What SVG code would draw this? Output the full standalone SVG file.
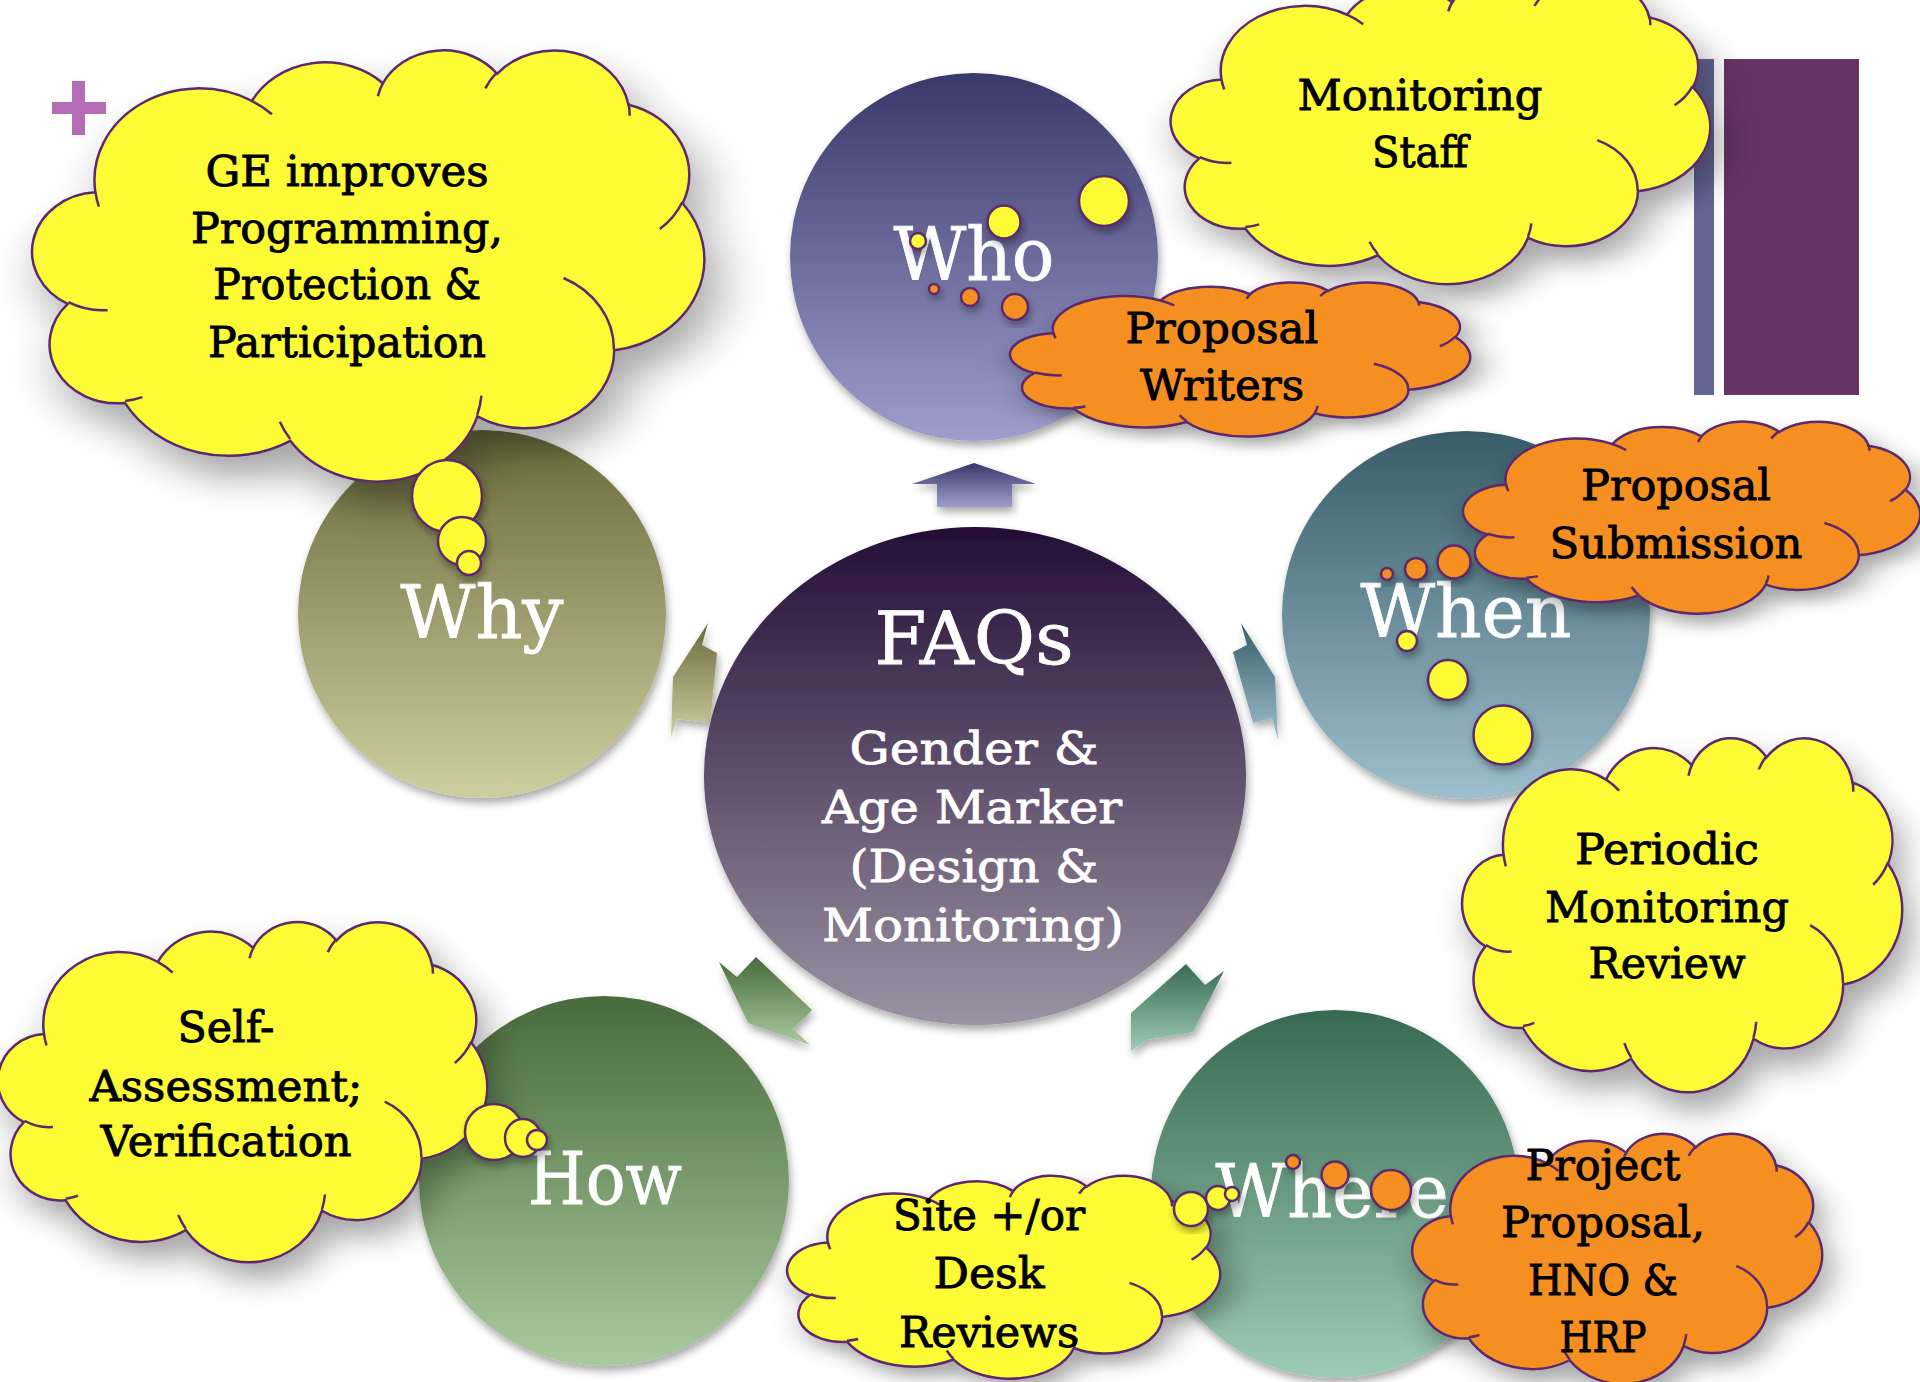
<svg xmlns="http://www.w3.org/2000/svg" xmlns:xlink="http://www.w3.org/1999/xlink" width="1920" height="1382" viewBox="0 0 1920 1382">
<style>
.lbl{font-family:"DejaVu Serif","Liberation Serif",serif;fill:#ffffff;text-anchor:middle;stroke:#ffffff;stroke-width:0.8}
.ct{font-family:"DejaVu Serif","Liberation Serif",serif;fill:#000000;text-anchor:middle;font-size:43px;stroke:#000000;stroke-width:0.9}
.bub{stroke:#5b2a6c;stroke-width:2.5}
.y{fill:#fdfb34}
.o{fill:#f68f22}
</style>
<defs>
<filter id="sh" x="-20%" y="-20%" width="140%" height="140%">
<feGaussianBlur in="SourceAlpha" stdDeviation="4"/>
<feOffset dx="2" dy="5" result="b"/>
<feComponentTransfer><feFuncA type="linear" slope="0.35"/></feComponentTransfer>
<feMerge><feMergeNode/><feMergeNode in="SourceGraphic"/></feMerge>
</filter>
<linearGradient id="gWho" x1="0" y1="0" x2="0" y2="1"><stop offset="0" stop-color="#3a386a"/><stop offset="1" stop-color="#9e9ecd"/></linearGradient>
<linearGradient id="gFaq" x1="0" y1="0" x2="0" y2="1"><stop offset="0" stop-color="#240e36"/><stop offset="1" stop-color="#9b92a3"/></linearGradient>
<linearGradient id="gWhy" x1="0" y1="0" x2="0" y2="1"><stop offset="0" stop-color="#696a3b"/><stop offset="1" stop-color="#cfcea0"/></linearGradient>
<linearGradient id="gWhen" x1="0" y1="0" x2="0" y2="1"><stop offset="0" stop-color="#385c69"/><stop offset="1" stop-color="#9ebfcd"/></linearGradient>
<linearGradient id="gHow" x1="0" y1="0" x2="0" y2="1"><stop offset="0" stop-color="#486b3c"/><stop offset="1" stop-color="#a9ca9c"/></linearGradient>
<linearGradient id="gWhere" x1="0" y1="0" x2="0" y2="1"><stop offset="0" stop-color="#386a52"/><stop offset="1" stop-color="#9ecbb4"/></linearGradient>
<g id="cloud">
<path vector-effect="non-scaling-stroke" stroke="#5b2a6c" stroke-width="2.5" d="M 9.03 33.26 A 15.63 21.27 0 0 1 32.42 12.05 A 12.34 16.82 0 0 1 51.99 7.95 A 10.10 13.76 0 0 1 69.07 5.75 A 11.24 15.27 0 0 1 88.71 12.92 A 12.34 16.84 0 0 1 96.81 35.80 A 15.68 21.34 0 0 1 86.59 69.92 A 13.39 18.21 0 0 1 66.11 85.22 A 15.63 21.33 0 0 1 38.16 90.90 A 17.87 24.41 0 0 1 13.44 82.12 A 10.09 13.70 0 0 1 4.90 59.15 A 10.06 13.76 0 0 1 9.03 33.26 Z"/>
<path vector-effect="non-scaling-stroke" fill="none" stroke="#5b2a6c" stroke-width="2.5" d="M 10.86 60.59 A 10.06 13.76 0 0 1 5.00 58.75 M 16.04 80.78 A 10.09 13.70 0 0 1 13.47 81.67 M 38.14 90.49 A 15.63 21.33 0 0 1 36.60 86.46 M 66.73 80.44 A 15.63 21.33 0 0 1 66.11 84.86 M 79.00 53.13 A 13.39 18.21 0 0 1 86.53 69.65 M 96.75 35.54 A 12.35 16.84 0 0 1 93.40 41.74 M 88.71 12.56 A 11.24 15.27 0 0 1 88.89 15.48 M 67.31 9.15 A 11.24 15.27 0 0 1 69.03 5.42 M 51.25 10.93 A 10.10 13.76 0 0 1 52.08 7.71 M 32.41 12.02 A 15.63 21.27 0 0 1 35.42 15.14 M 9.55 36.55 A 15.63 21.27 0 0 1 9.03 33.26"/>
</g>
</defs>
<rect x="0" y="0" width="1920" height="1382" fill="#ffffff"/>

<g id="decor">
<rect x="72" y="81" width="13" height="54" fill="#b56cb6"/>
<rect x="52" y="102" width="54" height="12" fill="#b56cb6"/>
<rect x="1694" y="59" width="20" height="336" fill="#646594"/>
<rect x="1724" y="59" width="135" height="336" fill="#663366"/>
</g>

<g id="connectors" filter="url(#sh)">
<polygon points="974,463 1036,484 1012,484 1012,507 937,507 937,484 912,484" fill="url(#gWho)"/>
<polygon points="708,623 702,645 717,653 710,723 677,719 671,737 673,677" fill="url(#gWhy)"/>
<polygon points="1241,623 1247,645 1233,652 1253,723 1272,718 1278,740 1275,677" fill="url(#gWhen)"/>
<polygon points="719,962 737,977 756,957 812,1010 793,1029 810,1045 748,1023" fill="url(#gHow)"/>
<polygon points="1186,964 1205,985 1224,971 1193,1032 1146,1040 1131,1051 1131,1013" fill="url(#gWhere)"/>
</g>

<g id="node-faqs">
<ellipse cx="975" cy="776" rx="271" ry="249" fill="url(#gFaq)" filter="url(#sh)"/>
<text class="lbl" x="974" y="664" font-size="72" textLength="199" lengthAdjust="spacingAndGlyphs">FAQs</text>
<text class="lbl" x="974" y="764" font-size="45" textLength="249" lengthAdjust="spacingAndGlyphs">Gender &amp;</text>
<text class="lbl" x="972" y="823" font-size="45" textLength="300" lengthAdjust="spacingAndGlyphs">Age Marker</text>
<text class="lbl" x="974" y="882" font-size="45" textLength="249" lengthAdjust="spacingAndGlyphs">(Design &amp;</text>
<text class="lbl" x="973" y="941" font-size="45" textLength="302" lengthAdjust="spacingAndGlyphs">Monitoring)</text>
</g>

<g id="node-who">
<circle cx="974" cy="257" r="184" fill="url(#gWho)" filter="url(#sh)"/>
<text class="lbl" x="974" y="280" font-size="72" textLength="161" lengthAdjust="spacingAndGlyphs">Who</text>
</g>
<g id="node-why">
<circle cx="482" cy="614" r="184" fill="url(#gWhy)" filter="url(#sh)"/>
<text class="lbl" x="482" y="638" font-size="72" textLength="163" lengthAdjust="spacingAndGlyphs">Why</text>
</g>
<g id="node-when">
<circle cx="1466" cy="615" r="184" fill="url(#gWhen)" filter="url(#sh)"/>
<text class="lbl" x="1466" y="637" font-size="72" textLength="211" lengthAdjust="spacingAndGlyphs">When</text>
</g>
<g id="node-how">
<circle cx="604" cy="1181" r="185" fill="url(#gHow)" filter="url(#sh)"/>
<text class="lbl" x="605" y="1204" font-size="72" textLength="154" lengthAdjust="spacingAndGlyphs">How</text>
</g>
<g id="node-where">
<circle cx="1335" cy="1194" r="184" fill="url(#gWhere)" filter="url(#sh)"/>
<text class="lbl" x="1332" y="1217" font-size="72" textLength="233" lengthAdjust="spacingAndGlyphs">Where</text>
</g>

<g id="cloud-ge">
<use href="#cloud" class="y" transform="translate(35 49) scale(6.69 4.31)" filter="url(#sh)"/>
<g filter="url(#sh)">
<ellipse class="y bub" cx="447" cy="496" rx="35" ry="36"/>
<ellipse class="y bub" cx="462" cy="541" rx="24" ry="24"/>
<ellipse class="y bub" cx="469" cy="563" rx="12" ry="12"/>
</g>
<text class="ct" x="347" y="186" textLength="283" lengthAdjust="spacingAndGlyphs">GE improves</text>
<text class="ct" x="347" y="243" textLength="312" lengthAdjust="spacingAndGlyphs">Programming,</text>
<text class="ct" x="347" y="299" textLength="268" lengthAdjust="spacingAndGlyphs">Protection &amp;</text>
<text class="ct" x="347" y="357" textLength="278" lengthAdjust="spacingAndGlyphs">Participation</text>
</g>

<g id="cloud-monitoring-staff">
<use href="#cloud" class="y" transform="translate(1173 -22) scale(5.37 3.05)" filter="url(#sh)"/>
<g filter="url(#sh)">
<circle class="y bub" cx="1104" cy="201" r="25"/>
<circle class="y bub" cx="1004" cy="222" r="16.5"/>
<circle class="y bub" cx="918" cy="241" r="8"/>
</g>
<text class="ct" x="1420" y="110" textLength="245" lengthAdjust="spacingAndGlyphs">Monitoring</text>
<text class="ct" x="1420" y="167" textLength="96" lengthAdjust="spacingAndGlyphs">Staff</text>
</g>

<g id="cloud-proposal-writers">
<use href="#cloud" class="o" transform="translate(1012 282) scale(4.58 1.54)" filter="url(#sh)"/>
<g filter="url(#sh)">
<circle class="o bub" cx="1015" cy="307" r="13"/>
<circle class="o bub" cx="970" cy="297" r="9"/>
<circle class="o bub" cx="934" cy="289" r="5"/>
</g>
<text class="ct" x="1222" y="343" textLength="193" lengthAdjust="spacingAndGlyphs">Proposal</text>
<text class="ct" x="1222" y="400" textLength="164" lengthAdjust="spacingAndGlyphs">Writers</text>
</g>

<g id="cloud-proposal-submission">
<use href="#cloud" class="o" transform="translate(1465 421) scale(4.55 1.92)" filter="url(#sh)"/>
<g filter="url(#sh)">
<circle class="o bub" cx="1454" cy="562" r="16.5"/>
<circle class="o bub" cx="1416" cy="569" r="11"/>
<circle class="o bub" cx="1387" cy="574" r="6"/>
</g>
<text class="ct" x="1676" y="500" textLength="190" lengthAdjust="spacingAndGlyphs">Proposal</text>
<text class="ct" x="1676" y="558" textLength="253" lengthAdjust="spacingAndGlyphs">Submission</text>
</g>

<g id="cloud-periodic">
<use href="#cloud" class="y" transform="translate(1464 737) scale(4.38 3.54)" filter="url(#sh)"/>
<g filter="url(#sh)">
<circle class="y bub" cx="1407" cy="641" r="10"/>
<circle class="y bub" cx="1448" cy="680" r="20"/>
<circle class="y bub" cx="1503" cy="735" r="29.5"/>
</g>
<text class="ct" x="1667" y="864" textLength="184" lengthAdjust="spacingAndGlyphs">Periodic</text>
<text class="ct" x="1667" y="922" textLength="244" lengthAdjust="spacingAndGlyphs">Monitoring</text>
<text class="ct" x="1667" y="978" textLength="157" lengthAdjust="spacingAndGlyphs">Review</text>
</g>

<g id="cloud-self-assessment">
<use href="#cloud" class="y" transform="translate(0 921) scale(4.87 3.40)" filter="url(#sh)"/>
<g filter="url(#sh)">
<ellipse class="y bub" cx="494" cy="1132" rx="29" ry="28"/>
<ellipse class="y bub" cx="523" cy="1138" rx="18" ry="19"/>
<ellipse class="y bub" cx="537" cy="1140" rx="10" ry="10"/>
</g>
<text class="ct" x="226" y="1042" textLength="97" lengthAdjust="spacingAndGlyphs">Self-</text>
<text class="ct" x="226" y="1101" textLength="273" lengthAdjust="spacingAndGlyphs">Assessment;</text>
<text class="ct" x="226" y="1156" textLength="251" lengthAdjust="spacingAndGlyphs">Verification</text>
</g>

<g id="cloud-site">
<use href="#cloud" class="y" transform="translate(789 1175) scale(4.31 2.03)" filter="url(#sh)"/>
<g filter="url(#sh)">
<circle class="y bub" cx="1191" cy="1209" r="17"/>
<circle class="y bub" cx="1218" cy="1198" r="12"/>
<circle class="y bub" cx="1232" cy="1194" r="7"/>
</g>
<text class="ct" x="989" y="1230" textLength="192" lengthAdjust="spacingAndGlyphs">Site +/or</text>
<text class="ct" x="989" y="1288" textLength="111" lengthAdjust="spacingAndGlyphs">Desk</text>
<text class="ct" x="989" y="1347" textLength="180" lengthAdjust="spacingAndGlyphs">Reviews</text>
</g>

<g id="cloud-project-proposal">
<g filter="url(#sh)">
<circle class="o bub" cx="1293" cy="1162" r="7"/>
<circle class="o bub" cx="1335" cy="1175" r="13.5"/>
<circle class="o bub" cx="1391" cy="1190" r="20"/>
</g>
<use href="#cloud" class="o" transform="translate(1414 1133) scale(4.08 2.50)" filter="url(#sh)"/>
<text class="ct" x="1603" y="1180" textLength="155" lengthAdjust="spacingAndGlyphs">Project</text>
<text class="ct" x="1603" y="1237" textLength="204" lengthAdjust="spacingAndGlyphs">Proposal,</text>
<text class="ct" x="1603" y="1295" textLength="150" lengthAdjust="spacingAndGlyphs">HNO &amp;</text>
<text class="ct" x="1603" y="1352" textLength="87" lengthAdjust="spacingAndGlyphs">HRP</text>
</g>
</svg>
